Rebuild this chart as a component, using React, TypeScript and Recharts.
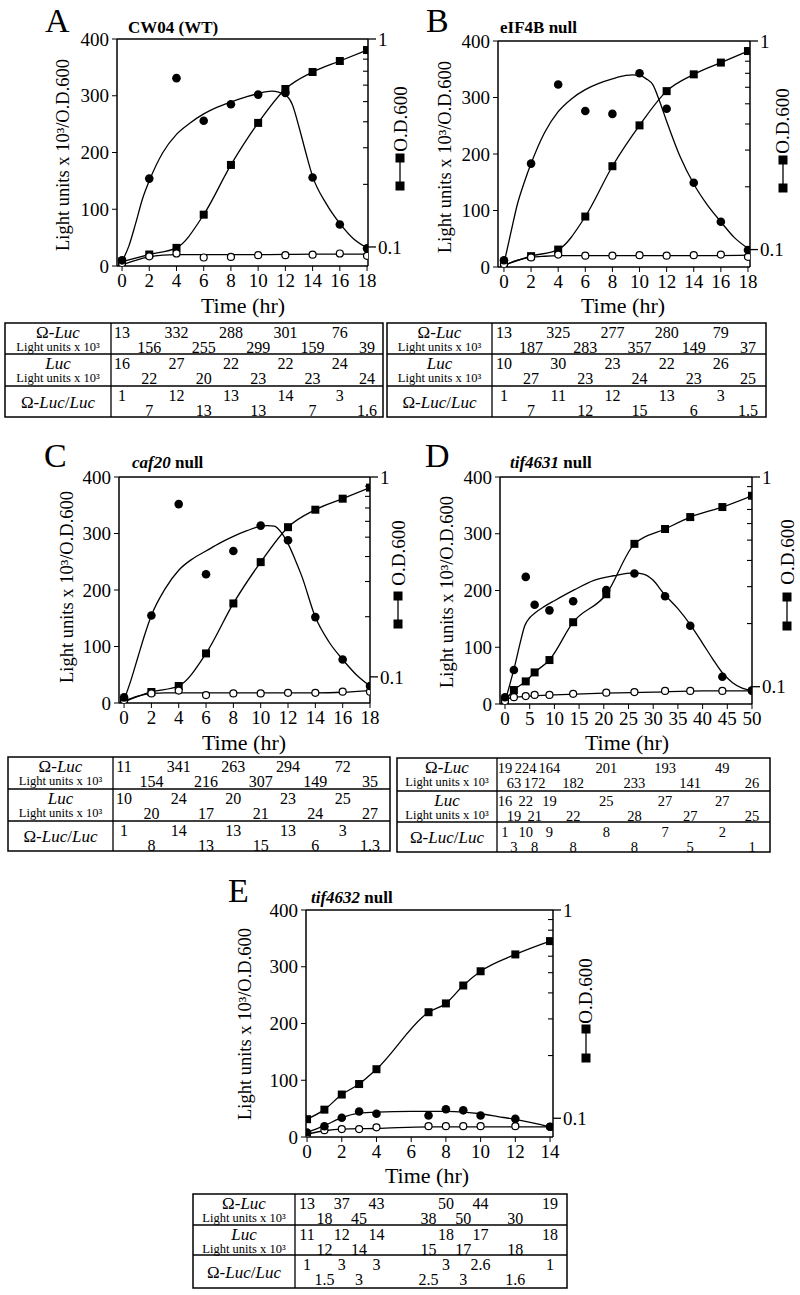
import { ComposedChart, Line, XAxis, YAxis, ReferenceLine } from 'recharts'

const FONT = "'Liberation Serif', 'Times New Roman', Times, serif"

// shared ticks
const lightTicks = [0, 100, 200, 300, 400]
const odTicks = [0.1, 0.2, 0.3, 0.4, 0.5, 0.6, 0.7, 0.8, 0.9, 1]
const odMajor = [0.1, 1]

// ---- A: CW04 (WT)
const aTime = [0, 2, 4, 6, 8, 10, 12, 14, 16, 18]
const aOmega = [10, 154, 331, 256, 285, 302, 305, 156, 73, 31]
const aLuc = [5, 17, 22, 15, 16, 19, 19, 20, 22, 18]
const aOd = [0.085, 0.092, 0.099, 0.143, 0.248, 0.395, 0.575, 0.694, 0.784, 0.885]
const aOmegaFitT = [0, 0.5, 1, 1.5, 2, 3, 4, 5, 6, 7, 8, 9, 10, 11, 12, 12.5, 13, 13.5, 14, 15, 16, 17, 18]
const aOmegaFit = [8, 35, 75, 118, 150, 200, 232, 252, 268, 280, 289, 297, 304, 308, 301, 285, 245, 200, 158, 110, 75, 48, 32]
const aLucFitT = [0, 1, 2, 3, 4, 6, 10, 14, 18]
const aLucFit = [2, 10, 16, 19, 20, 20, 20, 21, 21]
const aTabOmega = ['13', '156', '332', '255', '288', '299', '301', '159', '76', '39']
const aTabLuc = ['16', '22', '27', '20', '22', '23', '22', '23', '24', '24']
const aTabRatio = ['1', '7', '12', '13', '13', '13', '14', '7', '3', '1.6']

// ---- B: eIF4B null
const bTime = [0, 2, 4, 6, 8, 10, 12, 14, 16, 18]
const bOmega = [12, 183, 323, 276, 271, 343, 280, 149, 80, 30]
const bLuc = [5, 17, 22, 20, 20, 21, 20, 21, 22, 18]
const bOd = [0.084, 0.093, 0.1, 0.144, 0.251, 0.394, 0.575, 0.692, 0.788, 0.895]
const bOmegaFitT = [0, 0.5, 1, 1.5, 2, 3, 4, 5, 6, 7, 8, 9, 9.5, 10, 10.5, 11, 11.5, 12, 13, 14, 15, 16, 17, 18]
const bOmegaFit = [6, 60, 112, 150, 183, 238, 275, 298, 314, 325, 333, 339, 340, 339, 333, 322, 292, 258, 195, 147, 110, 80, 52, 33]
const bLucFitT = [0, 1, 2, 3, 4, 6, 10, 14, 18]
const bLucFit = [3, 12, 17, 19, 20, 20, 20, 20, 21]
const bTabOmega = ['13', '187', '325', '283', '277', '357', '280', '149', '79', '37']
const bTabLuc = ['10', '27', '30', '23', '23', '24', '22', '23', '26', '25']
const bTabRatio = ['1', '7', '11', '12', '12', '15', '13', '6', '3', '1.5']

// ---- C: caf20 null
const cTime = [0, 2, 4, 6, 8, 10, 12, 14, 16, 18]
const cOmega = [10, 155, 352, 228, 269, 314, 288, 152, 77, 30]
const cLuc = [5, 17, 22, 14, 17, 17, 18, 18, 20, 20]
const cOd = [0.075, 0.084, 0.09, 0.131, 0.233, 0.375, 0.561, 0.686, 0.779, 0.885]
const cOmegaFitT = [0, 0.5, 1, 1.5, 2, 3, 4, 5, 6, 7, 8, 9, 10, 10.5, 11, 11.5, 12, 12.5, 13, 14, 15, 16, 17, 18]
const cOmegaFit = [5, 40, 80, 120, 155, 202, 235, 255, 269, 283, 295, 305, 313, 314, 313, 302, 282, 255, 225, 152, 108, 77, 50, 30]
const cLucFitT = [0, 1, 2, 3, 4, 6, 10, 14, 16, 18]
const cLucFit = [3, 12, 17, 18, 18, 18, 18, 18, 19, 22]
const cTabOmega = ['11', '154', '341', '216', '263', '307', '294', '149', '72', '35']
const cTabLuc = ['10', '20', '24', '17', '20', '21', '23', '24', '25', '27']
const cTabRatio = ['1', '8', '14', '13', '13', '15', '13', '6', '3', '1.3']

// ---- D: tif4631 null
const dTime = [0, 1.8, 4.2, 6, 9, 13.8, 20.5, 26.2, 32.4, 37.5, 44, 50]
const dOmega = [12, 60, 224, 175, 165, 181, 201, 230, 190, 138, 48, 24]
const dLuc = [5, 12, 14, 16, 16, 18, 20, 21, 23, 23, 23, 23]
const dOd = [0.0857, 0.0964, 0.106, 0.117, 0.134, 0.203, 0.276, 0.48, 0.565, 0.644, 0.719, 0.814]
const dOmegaFitT = [0, 1, 2, 3, 4, 5, 6, 8, 10, 14, 18, 22, 26, 28, 30, 32, 35, 37.5, 40, 42, 44, 46, 48, 50]
const dOmegaFit = [4, 35, 68, 105, 138, 152, 160, 172, 182, 201, 218, 226, 231, 229, 218, 196, 168, 140, 107, 80, 55, 38, 28, 24]
const dLucFitT = [0, 2, 5, 10, 20, 30, 40, 50]
const dLucFit = [8, 12, 14, 16, 19, 21, 23, 23]
const dTabOmega = ['19', '63', '224', '172', '164', '182', '201', '233', '193', '141', '49', '26']
const dTabLuc = ['16', '19', '22', '21', '19', '22', '25', '28', '27', '27', '27', '25']
const dTabRatio = ['1', '3', '10', '8', '9', '8', '8', '8', '7', '5', '2', '1']

// ---- E: tif4632 null
const eTime = [0, 1, 2, 3, 4, 7, 8, 9, 10, 12, 14]
const eOmega = [8, 19, 34, 45, 41, 38, 49, 47, 38, 32, 18]
const eLuc = [5, 12, 14, 14, 17, 19, 19, 19, 19, 19, 18]
const eOd = [0.099, 0.11, 0.13, 0.146, 0.172, 0.323, 0.356, 0.434, 0.508, 0.612, 0.709]
const eOmegaFitT = [0, 1, 2, 3, 4, 6, 8, 9, 10, 11, 12, 13, 14]
const eOmegaFit = [8, 20, 34, 42, 44, 45, 45, 44, 41, 36, 31, 25, 18]
const eLucFitT = [0, 1, 2, 4, 7, 10, 14]
const eLucFit = [5, 11, 14, 15, 18, 18, 18]
const eTabOmega = ['13', '18', '37', '45', '43', '38', '50', '50', '44', '30', '19']
const eTabLuc = ['11', '12', '12', '14', '14', '15', '18', '17', '17', '18', '18']
const eTabRatio = ['1', '1.5', '3', '3', '3', '2.5', '3', '3', '2.6', '1.6', '1']

type Box = { left: number; right: number; top: number; bottom: number }
type Pt = { x: number; y: number }
type Panel = {
  letter: string; title: [string, string]
  time: number[]; omega: number[]; luc: number[]; od: number[]
  omegaFitT: number[]; omegaFit: number[]; lucFitT: number[]; lucFit: number[]
  tab: string[][]
  plot: Box; xDomain: [number, number]; xTicks: number[]; odMin: number
  letterAt: Pt; titleAt: Pt; ylabAt: Pt; timeAt: Pt; odAt: Pt; glyph: { x: number; y1: number; y2: number }
  table: { x0: number; xDiv: number; x1: number; rows: number[]; fs: number }
}

const even18 = [0, 2, 4, 6, 8, 10, 12, 14, 16, 18]

const panels: Panel[] = [
  {
    letter: 'A', title: ['', 'CW04 (WT)'],
    time: aTime, omega: aOmega, luc: aLuc, od: aOd,
    omegaFitT: aOmegaFitT, omegaFit: aOmegaFit, lucFitT: aLucFitT, lucFit: aLucFit,
    tab: [aTabOmega, aTabLuc, aTabRatio],
    plot: { left: 117, right: 368, top: 39, bottom: 266 }, xDomain: [-0.37, 18.07], xTicks: even18, odMin: 0.081,
    letterAt: { x: 45, y: 32 }, titleAt: { x: 128, y: 33 }, ylabAt: { x: 63, y: 155 }, timeAt: { x: 243, y: 313 },
    odAt: { x: 400, y: 119 }, glyph: { x: 400, y1: 158, y2: 186 },
    table: { x0: 5, xDiv: 111, x1: 383, rows: [323, 354, 386, 417], fs: 16 },
  },
  {
    letter: 'B', title: ['', 'eIF4B null'],
    time: bTime, omega: bOmega, luc: bLuc, od: bOd,
    omegaFitT: bOmegaFitT, omegaFit: bOmegaFit, lucFitT: bLucFitT, lucFit: bLucFit,
    tab: [bTabOmega, bTabLuc, bTabRatio],
    plot: { left: 498, right: 750, top: 41, bottom: 267 }, xDomain: [-0.44, 18.15], xTicks: even18, odMin: 0.0825,
    letterAt: { x: 426, y: 32 }, titleAt: { x: 500, y: 33 }, ylabAt: { x: 445, y: 157 }, timeAt: { x: 623, y: 313 },
    odAt: { x: 782, y: 121 }, glyph: { x: 783, y1: 160, y2: 188 },
    table: { x0: 387, xDiv: 492, x1: 766, rows: [323, 354, 386, 417], fs: 16 },
  },
  {
    letter: 'C', title: ['caf20', ' null'],
    time: cTime, omega: cOmega, luc: cLuc, od: cOd,
    omegaFitT: cOmegaFitT, omegaFit: cOmegaFit, lucFitT: cLucFitT, lucFit: cLucFit,
    tab: [cTabOmega, cTabLuc, cTabRatio],
    plot: { left: 119, right: 370, top: 477, bottom: 703 }, xDomain: [-0.37, 18], xTicks: even18, odMin: 0.074,
    letterAt: { x: 44, y: 467 }, titleAt: { x: 132, y: 468 }, ylabAt: { x: 67, y: 587 }, timeAt: { x: 244, y: 750 },
    odAt: { x: 398, y: 553 }, glyph: { x: 398, y1: 596, y2: 624 },
    table: { x0: 8, xDiv: 113, x1: 390, rows: [757, 789, 821, 851], fs: 16 },
  },
  {
    letter: 'D', title: ['tif4631', ' null'],
    time: dTime, omega: dOmega, luc: dLuc, od: dOd,
    omegaFitT: dOmegaFitT, omegaFit: dOmegaFit, lucFitT: dLucFitT, lucFit: dLucFit,
    tab: [dTabOmega, dTabLuc, dTabRatio],
    plot: { left: 500, right: 752, top: 477, bottom: 704 }, xDomain: [-1.01, 50], xTicks: [0, 5, 10, 15, 20, 25, 30, 35, 40, 45, 50], odMin: 0.0827,
    letterAt: { x: 425, y: 467 }, titleAt: { x: 510, y: 468 }, ylabAt: { x: 447, y: 592 }, timeAt: { x: 627, y: 750 },
    odAt: { x: 787, y: 552 }, glyph: { x: 787, y1: 597, y2: 626 },
    table: { x0: 397, xDiv: 497, x1: 770, rows: [758, 791, 822, 852], fs: 14.5 },
  },
  {
    letter: 'E', title: ['tif4632', ' null'],
    time: eTime, omega: eOmega, luc: eLuc, od: eOd,
    omegaFitT: eOmegaFitT, omegaFit: eOmegaFit, lucFitT: eLucFitT, lucFit: eLucFit,
    tab: [eTabOmega, eTabLuc, eTabRatio],
    plot: { left: 306, right: 553, top: 910, bottom: 1137 }, xDomain: [-0.06, 14.17], xTicks: [0, 2, 4, 6, 8, 10, 12, 14], odMin: 0.0813,
    letterAt: { x: 228, y: 902 }, titleAt: { x: 311, y: 903 }, ylabAt: { x: 245, y: 1024 }, timeAt: { x: 427, y: 1183 },
    odAt: { x: 585, y: 991 }, glyph: { x: 586, y1: 1029, y2: 1058 },
    table: { x0: 193, xDiv: 295, x1: 567, rows: [1194, 1225, 1255, 1288], fs: 16 },
  },
]

const pts = (t: number[], v: number[]) => t.map((x, i) => ({ t: x, v: v[i] }))

const filledDot = (props: any) => (
  <circle key={`f${props.index}`} cx={props.cx} cy={props.cy} r={4.3} fill="#000" />
)
const openDot = (props: any) => (
  <circle key={`o${props.index}`} cx={props.cx} cy={props.cy} r={3.5} fill="#fff" stroke="#000" strokeWidth={1.2} />
)
const squareDot = (props: any) => (
  <rect key={`s${props.index}`} x={props.cx - 4} y={props.cy - 4} width={8} height={8} fill="#000" />
)

const OdTick = (props: any) => {
  const { x, y, payload } = props
  const major = odMajor.includes(payload.value)
  return (
    <g>
      {major ? (
        <>
          <line x1={x} x2={x + 8} y1={y} y2={y} stroke="#000" strokeWidth={1.3} />
          <text x={x + 10} y={y} dy="0.35em" fontSize={19} fontFamily={FONT} fill="#000">{payload.value}</text>
        </>
      ) : (
        <line x1={x - 5} x2={x} y1={y} y2={y} stroke="#000" strokeWidth={1.1} />
      )}
    </g>
  )
}

function Plot({ p }: { p: Panel }) {
  const padL = 60, padR = 60, padT = 10, axisH = 35
  const w = p.plot.right - p.plot.left + padL + padR
  const h = p.plot.bottom - p.plot.top + padT + axisH
  const tickStyle = { fontSize: 19, fill: '#000', fontFamily: FONT }
  const ax = { stroke: '#000', strokeWidth: 1.5 }
  return (
    <div style={{ position: 'absolute', left: p.plot.left - padL, top: p.plot.top - padT }}>
      <ComposedChart width={w} height={h} margin={{ top: padT, right: 0, bottom: 0, left: 0 }}>
        <XAxis type="number" dataKey="t" domain={p.xDomain} ticks={p.xTicks} allowDataOverflow height={axisH}
          tick={tickStyle} axisLine={ax} tickLine={{ stroke: '#000' }} tickSize={5} tickMargin={3} interval={0} />
        <YAxis yAxisId="l" type="number" domain={[0, 400]} ticks={lightTicks} width={padL} allowDataOverflow
          tick={tickStyle} axisLine={ax} tickLine={{ stroke: '#000' }} tickSize={5} tickMargin={3} interval={0} />
        <YAxis yAxisId="r" orientation="right" type="number" scale="log" domain={[p.odMin, 1]} ticks={odTicks}
          allowDataOverflow width={padR} axisLine={ax} tickLine={false} tickSize={0} tickMargin={0} interval={0}
          tick={<OdTick />} />
        <ReferenceLine yAxisId="l" y={400} stroke="#000" strokeWidth={1.3} />
        <Line yAxisId="l" data={pts(p.omegaFitT, p.omegaFit)} dataKey="v" type="monotone" dot={false}
          stroke="#000" strokeWidth={1.3} isAnimationActive={false} />
        <Line yAxisId="l" data={pts(p.lucFitT, p.lucFit)} dataKey="v" type="monotone" dot={false}
          stroke="#000" strokeWidth={1.3} isAnimationActive={false} />
        <Line yAxisId="r" data={pts(p.time, p.od)} dataKey="v" type="monotone" dot={squareDot}
          stroke="#000" strokeWidth={1.3} isAnimationActive={false} />
        <Line yAxisId="l" data={pts(p.time, p.luc)} dataKey="v" stroke="none" dot={openDot} isAnimationActive={false} />
        <Line yAxisId="l" data={pts(p.time, p.omega)} dataKey="v" stroke="none" dot={filledDot} isAnimationActive={false} />
      </ComposedChart>
    </div>
  )
}

function Table({ p }: { p: Panel }) {
  const t = p.table
  const [r0, r1, r2, r3] = t.rows
  const hx = (t.x0 + t.xDiv) / 2
  const xs = (v: number) =>
    p.plot.left + ((v - p.xDomain[0]) / (p.xDomain[1] - p.xDomain[0])) * (p.plot.right - p.plot.left)
  const rowTops = [r0, r1, r2]
  return (
    <g fontFamily={FONT} fill="#000">
      <rect x={t.x0} y={r0} width={t.x1 - t.x0} height={r3 - r0} fill="none" stroke="#000" strokeWidth={1.5} />
      <line x1={t.x0} x2={t.x1} y1={r1} y2={r1} stroke="#000" strokeWidth={1.3} />
      <line x1={t.x0} x2={t.x1} y1={r2} y2={r2} stroke="#000" strokeWidth={1.3} />
      <line x1={t.xDiv} x2={t.xDiv} y1={r0} y2={r3} stroke="#000" strokeWidth={1.3} />
      <text x={hx} y={r0 + 15} textAnchor="middle" fontSize={17}>Ω-<tspan fontStyle="italic">Luc</tspan></text>
      <text x={hx} y={r0 + 28} textAnchor="middle" fontSize={12.5}>Light units x 10³</text>
      <text x={hx} y={r1 + 15} textAnchor="middle" fontSize={17} fontStyle="italic">Luc</text>
      <text x={hx} y={r1 + 28} textAnchor="middle" fontSize={12.5}>Light units x 10³</text>
      <text x={hx} y={(r2 + r3) / 2 + 6} textAnchor="middle" fontSize={17}>
        Ω-<tspan fontStyle="italic">Luc</tspan>/<tspan fontStyle="italic">Luc</tspan>
      </text>
      {p.tab.map((row, ri) =>
        row.map((s, i) => (
          <text key={`${ri}-${i}`} x={xs(p.time[i])} y={rowTops[ri] + (i % 2 === 0 ? 14.5 : 29.5)}
            textAnchor="middle" fontSize={t.fs}>{s}</text>
        )),
      )}
    </g>
  )
}

function Labels({ p }: { p: Panel }) {
  const g = p.glyph
  return (
    <g fontFamily={FONT} fill="#000">
      <text x={p.letterAt.x} y={p.letterAt.y} fontSize={34}>{p.letter}</text>
      <text x={p.titleAt.x} y={p.titleAt.y} fontSize={17} fontWeight="bold">
        <tspan fontStyle="italic">{p.title[0]}</tspan>{p.title[1]}
      </text>
      <text x={p.ylabAt.x} y={p.ylabAt.y} fontSize={18.5} textAnchor="middle" dominantBaseline="central"
        transform={`rotate(-90 ${p.ylabAt.x} ${p.ylabAt.y})`}>Light units x 10³/O.D.600</text>
      <text x={p.timeAt.x} y={p.timeAt.y} fontSize={22} textAnchor="middle">Time (hr)</text>
      <text x={p.odAt.x} y={p.odAt.y} fontSize={19} textAnchor="middle" dominantBaseline="central"
        transform={`rotate(-90 ${p.odAt.x} ${p.odAt.y})`}>O.D.600</text>
      <line x1={g.x} x2={g.x} y1={g.y1} y2={g.y2} stroke="#000" strokeWidth={1.3} />
      <rect x={g.x - 4.5} y={g.y1 - 4.5} width={9} height={9} fill="#000" />
      <rect x={g.x - 4.5} y={g.y2 - 4.5} width={9} height={9} fill="#000" />
    </g>
  )
}

export default function App() {
  return (
    <div style={{ position: 'absolute', left: 0, top: 0, width: 800, height: 1295, background: '#fff', overflow: 'hidden' }}>
      {panels.map((p) => <Plot key={p.letter} p={p} />)}
      <svg width={800} height={1295} style={{ position: 'absolute', left: 0, top: 0, pointerEvents: 'none' }}>
        {panels.map((p) => (
          <g key={p.letter}>
            <Labels p={p} />
            <Table p={p} />
          </g>
        ))}
      </svg>
    </div>
  )
}
